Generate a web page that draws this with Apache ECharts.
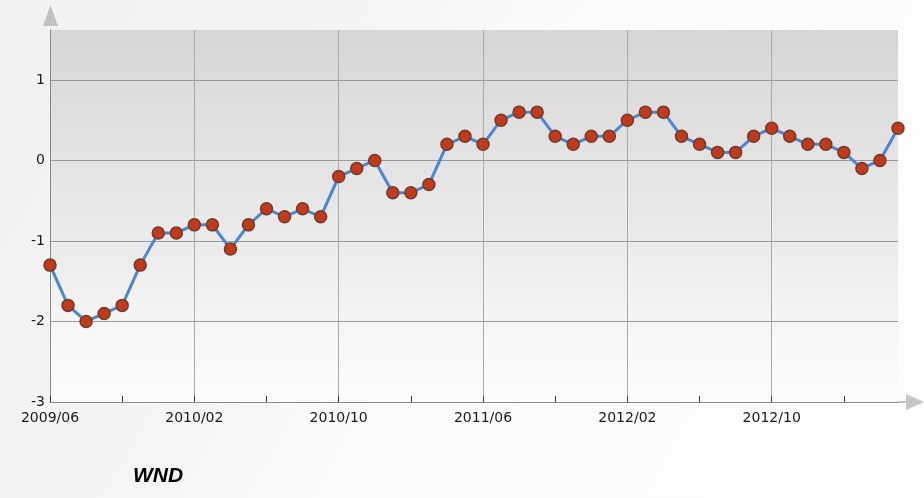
<!DOCTYPE html>
<html><head><meta charset="utf-8">
<script src="https://cdn.jsdelivr.net/npm/echarts@6/dist/echarts.min.js"></script>
<style>html,body{margin:0;padding:0;background:#fff}#c{width:924px;height:498px}</style>
</head><body><div id="c"></div>
<script>
const months = [
 '2009/06','2009/07','2009/08','2009/09','2009/10','2009/11','2009/12',
 '2010/01','2010/02','2010/03','2010/04','2010/05','2010/06','2010/07','2010/08','2010/09','2010/10','2010/11','2010/12',
 '2011/01','2011/02','2011/03','2011/04','2011/05','2011/06','2011/07','2011/08','2011/09','2011/10','2011/11','2011/12',
 '2012/01','2012/02','2012/03','2012/04','2012/05','2012/06','2012/07','2012/08','2012/09','2012/10','2012/11','2012/12',
 '2013/01','2013/02','2013/03','2013/04','2013/05'
];
const values = [
 -1.3,-1.8,-2.0,-1.9,-1.8,-1.3,-0.9,
 -0.9,-0.8,-0.8,-1.1,-0.8,-0.6,-0.7,-0.6,-0.7,-0.2,-0.1,0.0,
 -0.4,-0.4,-0.3,0.2,0.3,0.2,0.5,0.6,0.6,0.3,0.2,0.3,
 0.3,0.5,0.6,0.6,0.3,0.2,0.1,0.1,0.3,0.4,0.3,0.2,
 0.2,0.1,-0.1,0.0,0.4
];
const yTicks = [-3,-2,-1,0,1];
const sourceLabel = 'WND';

const chart = echarts.init(document.getElementById('c'));
const font = 'DejaVu Sans';
chart.setOption({
  backgroundColor: new echarts.graphic.LinearGradient(0,0,1,1,[
    {offset:0,color:'#f1f1f1'},{offset:0.35,color:'#f6f5f6'},{offset:0.5,color:'#fcfbfc'},{offset:1,color:'#fefcfd'}]),
  animation: false,
  title: {
    text: sourceLabel, left: 128, top: 461,
    textStyle: {fontFamily: 'Liberation Sans Narrow, Liberation Sans', fontStyle: 'italic', fontWeight: 'bold', fontSize: 21, color: '#000'}
  },
  grid: {
    left: 50, right: 26, top: 30, bottom: 96, show: true, borderWidth: 0,
    backgroundColor: new echarts.graphic.LinearGradient(0,0,0,1,[
      {offset:0,color:'#d7d6d7'},{offset:0.15,color:'#dddcdd'},{offset:0.35,color:'#e4e3e4'},
      {offset:0.6,color:'#edecec'},{offset:0.8,color:'#f7f6f7'},{offset:1,color:'#fdfcfd'}])
  },
  xAxis: {
    type: 'category', data: months, boundaryGap: false,
    axisLine: {show: true, onZero: false, lineStyle: {color: '#888', width: 1}},
    axisTick: {show: true, interval: 3, length: 6, inside: true, lineStyle: {color: '#333'}},
    axisLabel: {interval: 7, color: '#1a1a1a', fontFamily: font, fontSize: 14, margin: 9},
    splitLine: {show: true, interval: 7, lineStyle: {color: '#aaa', width: 1}}
  },
  yAxis: {
    type: 'value', min: yTicks[0], max: 1.62, interval: 1,
    axisLine: {show: true, lineStyle: {color: '#888', width: 1}},
    axisTick: {show: false},
    axisLabel: {color: '#1a1a1a', fontFamily: font, fontSize: 14, margin: 5,
      formatter: v => (yTicks.indexOf(v) >= 0 ? String(v) : '')},
    splitLine: {show: true, lineStyle: {color: ['#999','#999','#999','#999','#999','rgba(0,0,0,0)'], width: 1}}
  },
  graphic: [
    {type: 'polygon', shape: {points: [[43,26],[58,26],[50.5,5]]}, style: {fill: '#c2c2c2'}},
    {type: 'line', shape: {x1: 898, y1: 402, x2: 907, y2: 402}, style: {stroke: '#888', lineWidth: 1}},
    {type: 'polygon', shape: {points: [[906,394],[906,410],[924,402]]}, style: {fill: '#c6c6c6'}}
  ],
  series: [{
    type: 'line', data: values, showSymbol: true, showAllSymbol: true,
    lineStyle: {color: '#4a87d0', width: 3},
    symbol: 'circle', symbolSize: 12,
    itemStyle: {color: '#c03a1c', borderColor: '#74392a', borderWidth: 1.5},
    z: 5
  }]
});
</script></body></html>
